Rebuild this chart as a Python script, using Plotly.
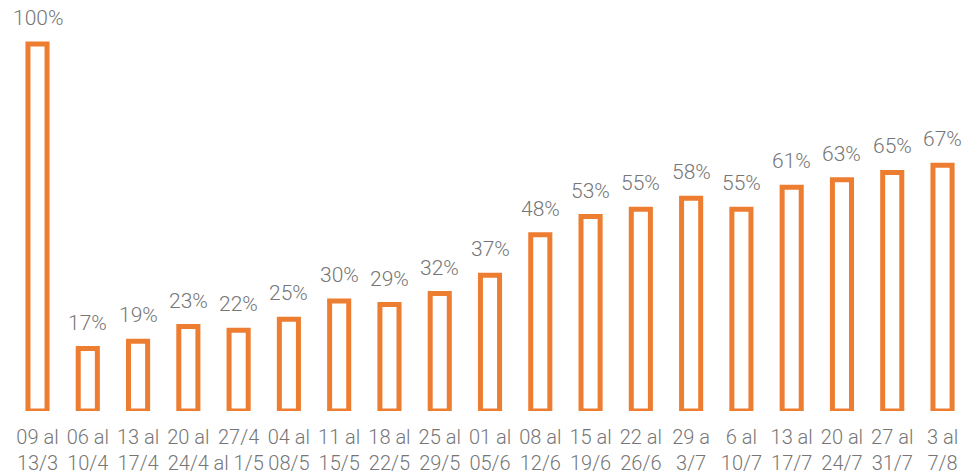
import plotly.graph_objects as go

categories = ["09 al<br>13/3", "06 al<br>10/4", "13 al<br>17/4", "20 al<br>24/4", "27/4<br>al 1/5",
              "04 al<br>08/5", "11 al<br>15/5", "18 al<br>22/5", "25 al<br>29/5", "01 al<br>05/6",
              "08 al<br>12/6", "15 al<br>19/6", "22 al<br>26/6", "29 a<br>3/7", "6 al<br>10/7",
              "13 al<br>17/7", "20 al<br>24/7", "27 al<br>31/7", "3 al<br>7/8"]
values = [100, 17, 19, 23, 22, 25, 30, 29, 32, 37, 48, 53, 55, 58, 55, 61, 63, 65, 67]
labels = [f"{v}%" for v in values]

orange = "#ED7D31"
gray = "#767676"
font_family = "Roboto"

fig = go.Figure()
fig.add_trace(go.Bar(
    x=list(range(len(categories))),
    y=values,
    width=0.38,
    marker=dict(color="white", line=dict(color=orange, width=5)),
    hoverinfo="skip",
))

for i, (v, t) in enumerate(zip(values, labels)):
    fig.add_annotation(x=i, y=v, text=t, showarrow=False, yanchor="bottom",
                       yshift=12, font=dict(family=font_family, size=21, color=gray, weight=300))

fig.update_layout(
    width=965, height=476,
    margin=dict(l=0, r=0, t=0, b=65, autoexpand=False),
    plot_bgcolor="white", paper_bgcolor="white",
    showlegend=False,
    bargap=0,
)
fig.update_xaxes(
    range=[-0.746, 18.447],
    tickmode="array",
    tickvals=list(range(len(categories))),
    ticktext=categories,
    ticks="outside", ticklen=8, tickcolor="rgba(0,0,0,0)",
    tickfont=dict(family=font_family, size=20, color=gray, weight=300),
    showgrid=False, zeroline=False, showline=False,
    automargin=False,
)
fig.update_yaxes(range=[0, 112.0], visible=False, showgrid=False, zeroline=False, automargin=False)

fig.write_html("out.html", config={"displayModeBar": False, "staticPlot": True},
               post_script="document.body.style.margin='0';document.body.style.overflow='hidden';")
